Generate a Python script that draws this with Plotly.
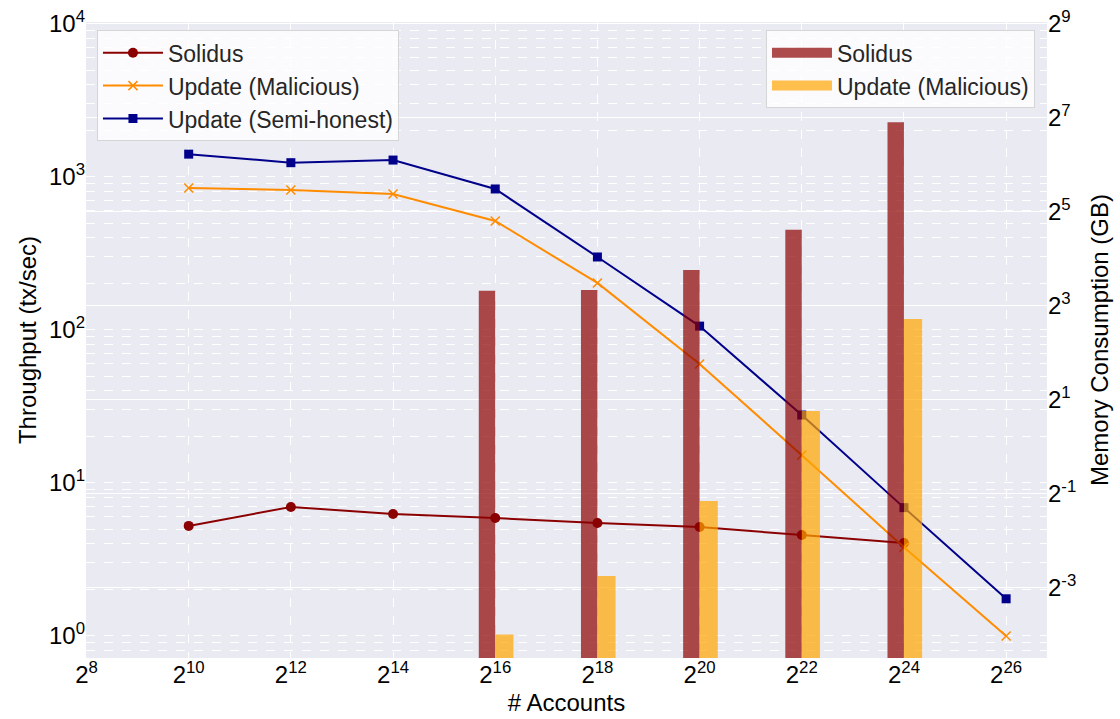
import math
import plotly.graph_objects as go

# Number of accounts (powers of two)
account_exp = [10, 12, 14, 16, 18, 20, 22, 24, 26]
solidus_exp = [10, 12, 14, 16, 18, 20, 22, 24]
memory_exp = [16, 18, 20, 22, 24]

# Throughput (tx/sec)
tput_solidus = [5.24, 6.97, 6.27, 5.9, 5.48, 5.15, 4.57, 4.05]
tput_malicious = [848, 822, 774, 516, 203, 60, 15.2, 3.8, 1.0]
tput_semihonest = [1410, 1240, 1290, 835, 300, 106, 27.8, 6.9, 1.75]

# Memory consumption (GB)
mem_solidus = [10.0, 10.1, 13.6, 24.6, 120]
mem_malicious = [0.063, 0.149, 0.45, 1.7, 6.6]

x_ticks_exp = list(range(8, 27, 2))
y_left_ticks_exp = [0, 1, 2, 3, 4]
y_right_ticks_exp = [-3, -1, 1, 3, 5, 7, 9]

FONT = "Liberation Sans, Arial, sans-serif"
BG = "#EAEAF2"
RED_BAR = "rgba(139,0,0,0.7)"
ORANGE_BAR = "rgba(255,165,0,0.7)"

acc = [2 ** e for e in account_exp]
acc_sol = [2 ** e for e in solidus_exp]
acc_mem = [2 ** e for e in memory_exp]

fig = go.Figure()

# Throughput lines (left axis)
fig.add_trace(go.Scatter(
    x=acc_sol, y=tput_solidus, name="Solidus", mode="lines+markers",
    line=dict(color="#8B0000", width=2),
    marker=dict(symbol="circle", size=10, color="#8B0000"),
    legend="legend",
))
fig.add_trace(go.Scatter(
    x=acc, y=tput_malicious, name="Update (Malicious)", mode="lines+markers",
    line=dict(color="#FF8C00", width=2),
    marker=dict(symbol="x-thin", size=9, color="#FF8C00",
                line=dict(color="#FF8C00", width=1.5)),
    legend="legend",
))
fig.add_trace(go.Scatter(
    x=acc, y=tput_semihonest, name="Update (Semi-honest)", mode="lines+markers",
    line=dict(color="#00008B", width=2),
    marker=dict(symbol="square", size=9, color="#00008B"),
    legend="legend",
))

# Memory bars (right axis), placed just left / right of each account count
fig.add_trace(go.Bar(
    x=acc_mem, y=mem_solidus, name="Solidus", yaxis="y2",
    width=[0.2 * v for v in acc_mem], offset=[-0.2 * v for v in acc_mem],
    marker=dict(color=RED_BAR, line=dict(width=0)),
    showlegend=False,
))
fig.add_trace(go.Bar(
    x=acc_mem, y=mem_malicious, name="Update (Malicious)", yaxis="y2",
    width=[0.28 * v for v in acc_mem], offset=[0 for v in acc_mem],
    marker=dict(color=ORANGE_BAR, line=dict(width=0)),
    showlegend=False,
))

# Wide rectangular legend patches for the bar series
for label, col in (("Solidus", RED_BAR), ("Update (Malicious)", ORANGE_BAR)):
    fig.add_trace(go.Scatter(
        x=[None], y=[None], yaxis="y2", name=label, mode="lines",
        line=dict(color=col, width=16), legend="legend2", hoverinfo="skip",
    ))

log2 = math.log10(2)
minor_vals = [d * 10 ** k for k in range(-1, 4) for d in range(2, 10)]

legend_common = dict(
    bgcolor="rgba(255,255,255,0.8)", bordercolor="#D5D5D5", borderwidth=1,
    font=dict(size=23, color="#262626"), itemwidth=60, tracegroupgap=0,
)

fig.update_layout(
    width=1120, height=719,
    margin=dict(l=86, r=73, t=22, b=61, autoexpand=False),
    paper_bgcolor="white", plot_bgcolor=BG,
    font=dict(family=FONT, size=22, color="#000000"),
    barmode="overlay",
    xaxis=dict(
        type="log", range=[7.99 * log2, 26.8 * log2], automargin=False,
        tickmode="array", tickvals=[2 ** e for e in x_ticks_exp],
        ticktext=[f"2<sup>{e}</sup>" for e in x_ticks_exp],
        tickfont=dict(size=24),
        showgrid=True, gridcolor="white", griddash="dash", gridwidth=1,
        zeroline=False, showline=False, ticks="",
        title=dict(text="# Accounts", font=dict(size=24), standoff=7),
    ),
    yaxis=dict(
        type="log", range=[-0.144, 4.013], automargin=False,
        tickmode="array", tickvals=[10 ** e for e in y_left_ticks_exp],
        ticktext=[f"10<sup>{e}</sup>" for e in y_left_ticks_exp],
        tickfont=dict(size=24),
        showgrid=True, gridcolor="white", griddash="dash", gridwidth=1,
        minor=dict(tickmode="array", tickvals=minor_vals, showgrid=True,
                   gridcolor="white", griddash="dash", gridwidth=0.8, ticks=""),
        zeroline=False, showline=False, ticks="",
        title=dict(text="Throughput (tx/sec)", font=dict(size=24), standoff=5),
    ),
    yaxis2=dict(
        type="log", overlaying="y", side="right", automargin=False,
        range=[-4.49 * log2, 9.04 * log2],
        tickmode="array", tickvals=[2 ** e for e in y_right_ticks_exp],
        ticktext=[f"2<sup>{e}</sup>" for e in y_right_ticks_exp],
        tickfont=dict(size=24),
        showgrid=True, gridcolor="white", gridwidth=1.3,
        zeroline=False, showline=False, ticks="",
        title=dict(text="Memory Consumption (GB)", font=dict(size=24), standoff=15),
    ),
    legend=dict(x=0.0114, y=0.987, xanchor="left", yanchor="top", **legend_common),
    legend2=dict(x=0.9875, y=0.987, xanchor="right", yanchor="top", **legend_common),
)

fig.write_html("out.html")
